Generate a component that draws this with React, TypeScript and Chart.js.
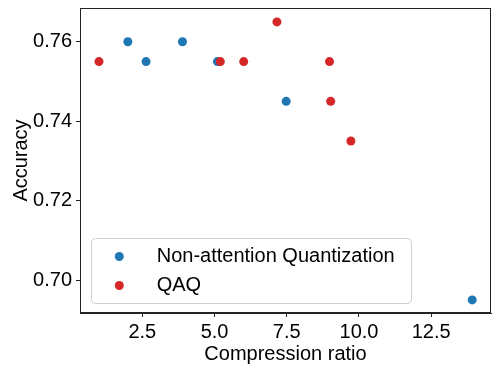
import React, { useEffect, useRef } from "react";
import { Chart, registerables } from "chart.js";

Chart.register(...registerables);

const nonAttnX = [2.0, 2.63, 3.89, 5.1, 7.48, 13.92];
const nonAttnY = [0.76, 0.755, 0.76, 0.755, 0.745, 0.695];
const qaqX = [1.0, 5.2, 6.01, 7.16, 8.98, 9.02, 9.72];
const qaqY = [0.755, 0.755, 0.755, 0.765, 0.755, 0.745, 0.735];
const xTicks = [2.5, 5.0, 7.5, 10.0, 12.5];
const yTicks = [0.7, 0.72, 0.74, 0.76];
const seriesLabels = ["Non-attention Quantization", "QAQ"];

const FONT = "'Liberation Sans', Arial, sans-serif";

const framePlugin = {
  id: "frame",
  afterDatasetsDraw(chart: any) {
    const { ctx, chartArea } = chart;
    ctx.save();
    ctx.strokeStyle = "#222";
    ctx.lineWidth = 1;
    ctx.strokeRect(
      Math.round(chartArea.left) + 0.5,
      Math.round(chartArea.top) + 0.5,
      Math.round(chartArea.right - chartArea.left) - 1,
      Math.round(chartArea.bottom - chartArea.top) - 1
    );
    ctx.restore();
  },
};

const legendPlugin = {
  id: "innerLegend",
  afterDraw(chart: any) {
    const { ctx, chartArea } = chart;
    const ds = chart.data.datasets;
    const left = chartArea.left + 11;
    const boxW = 320;
    const rowH = 29;
    const boxH = 65;
    const top = chartArea.bottom - 10 - boxH;
    ctx.save();
    ctx.beginPath();
    (ctx as any).roundRect(left + 0.5, top + 0.5, boxW, boxH, 4);
    ctx.fillStyle = "rgba(255,255,255,0.8)";
    ctx.fill();
    ctx.strokeStyle = "#d0d0d0";
    ctx.lineWidth = 1;
    ctx.stroke();
    ctx.font = `20px ${FONT}`;
    ctx.textBaseline = "middle";
    ctx.textAlign = "left";
    ds.forEach((d: any, i: number) => {
      const cy = top + 18.5 + i * rowH;
      ctx.beginPath();
      ctx.arc(left + 28.3, cy, 4.5, 0, Math.PI * 2);
      ctx.fillStyle = d.backgroundColor;
      ctx.fill();
      ctx.fillStyle = "#000";
      ctx.fillText(d.label, left + 65.7, cy);
    });
    ctx.restore();
  },
};

export default function App() {
  const ref = useRef<HTMLCanvasElement>(null);
  useEffect(() => {
    if (!ref.current) return;
    const chart = new Chart(ref.current, {
      type: "scatter",
      data: {
        datasets: [
          {
            label: seriesLabels[0],
            data: nonAttnX.map((x, i) => ({ x, y: nonAttnY[i] })),
            backgroundColor: "#1f77b4",
            borderWidth: 0,
            pointRadius: 4.5,
            order: 1,
          },
          {
            label: seriesLabels[1],
            data: qaqX.map((x, i) => ({ x, y: qaqY[i] })),
            backgroundColor: "#d62728",
            borderWidth: 0,
            pointRadius: 4.5,
            order: 0,
          },
        ],
      },
      options: {
        responsive: false,
        animation: false,
        layout: { padding: { left: 0, top: 8, right: 8, bottom: 0 } },
        plugins: {
          legend: { display: false },
          tooltip: { enabled: false },
        },
        scales: {
          x: {
            type: "linear",
            min: 0.343,
            max: 14.57,
            afterBuildTicks: (s: any) => {
              s.ticks = xTicks.map((v) => ({ value: v }));
            },
            afterFit: (s: any) => {
              s.height = 60;
              s.paddingLeft = 0;
              s.paddingRight = 0;
            },
            ticks: {
              color: "#000",
              font: { family: FONT, size: 20 },
              padding: 3,
              maxRotation: 0,
              autoSkip: false,
              callback: (v: any) => Number(v).toFixed(1),
            },
            grid: {
              drawOnChartArea: false,
              drawTicks: true,
              tickLength: 4,
              color: "#222",
              lineWidth: 1,
            },
            border: { display: true, color: "#222", width: 1 },
            title: {
              display: true,
              text: "Compression ratio",
              color: "#000",
              font: { family: FONT, size: 20 },
              padding: { top: 0, bottom: 7 },
            },
          },
          y: {
            type: "linear",
            min: 0.6917,
            max: 0.7685,
            afterBuildTicks: (s: any) => {
              s.ticks = yTicks.map((v) => ({ value: v }));
            },
            afterFit: (s: any) => {
              s.width = 80;
              s.paddingTop = 0;
              s.paddingBottom = 0;
            },
            ticks: {
              color: "#000",
              font: { family: FONT, size: 20 },
              padding: 4,
              autoSkip: false,
              callback: (v: any) => Number(v).toFixed(2),
            },
            grid: {
              drawOnChartArea: false,
              drawTicks: true,
              tickLength: 4,
              color: "#222",
              lineWidth: 1,
            },
            border: { display: true, color: "#222", width: 1 },
            title: {
              display: true,
              text: "Accuracy",
              color: "#000",
              font: { family: FONT, size: 20 },
              padding: { top: 9, bottom: 0 },
            },
          },
        },
      },
      plugins: [framePlugin, legendPlugin],
    });
    return () => chart.destroy();
  }, []);
  return (
    <div style={{ position: "absolute", left: 0, top: 0, width: 499, height: 373, background: "#fff" }}>
      <canvas ref={ref} width={499} height={373} style={{ display: "block" }} />
    </div>
  );
}
